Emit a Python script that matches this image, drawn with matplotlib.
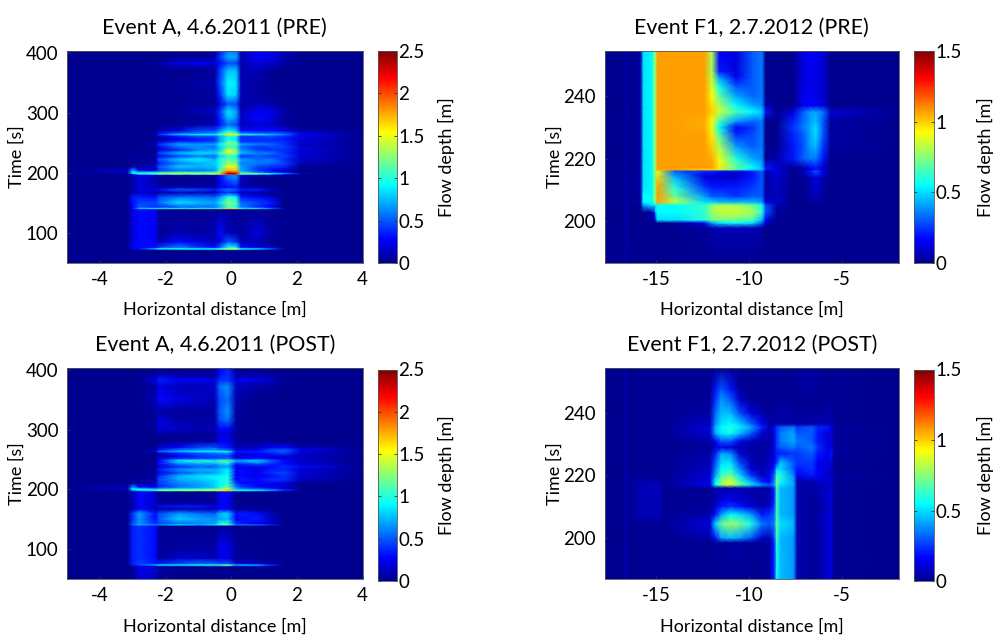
import numpy as np
import matplotlib
matplotlib.use("Agg")
from matplotlib import pylab as plt
from matplotlib.colors import LinearSegmentedColormap

plt.rcParams["font.family"] = ["Lato", "DejaVu Sans"]

# Event A: shared grid (distance in m, time in s, depth in m)
a_x = [-5, -3.15, -3, -2.8, -2.3, -2.2, -1.6, -1, -0.5, -0.35, -0.1, 0.15, 0.3, 0.8, 1.2, 1.6, 2.1, 4]
a_t = [50, 71, 72.5, 74, 76, 85, 100, 139, 141, 143, 150, 160, 167, 172, 176, 190, 196.5, 198, 199.5, 201,
       204, 210, 216, 222, 228, 233, 238, 243, 248, 252, 256, 261, 264, 266, 270, 280, 292, 302, 315, 330,
       350, 372, 383, 392, 403]

a_pre = [
    [0, 0, 0, 0, 0, 0, 0, 0, 0, 0, 0, 0, 0, 0, 0, 0, 0, 0],
    [0, 0, 0, 0, 0, 0, 0, 0, 0, 0, .02, .02, 0, 0, 0, 0, 0, 0],
    [0, 0, .2, .2, .5, .6, .7, .7, .7, .8, 1, 1, .7, .6, .4, 0, 0, 0],
    [0, 0, .25, .3, .8, 1, 1, .9, .9, 1.1, 1.6, 1.5, .9, .8, .5, .1, 0, 0],
    [0, 0, .25, .3, .3, .4, .6, .4, .3, .5, .9, .9, .3, .2, .1, 0, 0, 0],
    [0, 0, .2, .3, .25, .08, .3, .2, .1, .2, .5, .4, .1, .1, 0, 0, 0, 0],
    [0, 0, .2, .3, .25, .03, .08, .05, .1, .3, .1, .05, .03, .2, .05, 0, 0, 0],
    [0, 0, .2, .3, .25, .01, .01, .01, .02, .03, .05, .03, .01, 0, 0, 0, 0, 0],
    [0, 0, .3, .8, .9, .9, 1, 1, 1, 1.2, 1.6, 1.5, 1, .9, .6, .1, 0, 0],
    [0, 0, .3, .5, .4, .4, .5, .55, .55, .7, 1.1, 1, .6, .4, .25, 0, 0, 0],
    [0, 0, .3, .45, .45, .55, .85, .75, .7, .85, 1.25, 1.1, .55, .45, .35, 0, 0, 0],
    [0, 0, .35, .35, .3, .45, .55, .55, .5, .65, 1, .9, .35, .25, .15, 0, 0, 0],
    [0, 0, .05, .15, .05, .05, .1, .1, .1, .3, .4, .3, .1, .05, 0, 0, 0, 0],
    [0, 0, .05, .2, .2, .3, .5, .45, .35, .45, .6, .5, .35, .35, .15, 0, 0, 0],
    [0, 0, .05, .2, .1, .05, .05, .05, .05, .25, .3, .35, .1, .03, 0, 0, 0, 0],
    [0, 0, .05, .2, .1, 0, 0, 0, .03, .25, .5, .6, .1, 0, 0, 0, 0, 0],
    [0, 0, .05, .2, .1, .02, .02, .03, .05, .3, .6, .65, .15, .05, .03, 0, 0, 0],
    [0, .05, .3, .8, .85, 1, 1.1, 1.1, 1.2, 1.4, 2.2, 2.1, 1.1, .9, .7, .4, .02, 0],
    [0, .1, .95, 1.05, 1.3, 1.4, 1.5, 1.45, 1.45, 1.7, 2.45, 2.3, 1.35, 1.25, .95, .7, .1, 0],
    [0, .1, .9, .8, .85, .85, 1, .9, 1, 1.35, 2.1, 2, .9, .6, .4, .25, 0, 0],
    [0, .15, .7, .25, .25, .4, .55, .55, .65, 1.05, 1.75, 1.7, .7, .4, .3, .15, 0, 0],
    [0, 0, .1, .05, .1, .5, .8, .75, .75, 1, 1.5, 1.4, .7, .45, .4, .35, .02, 0],
    [0, 0, .02, .03, .05, .35, .6, .7, .8, .9, 1.3, 1.2, .6, .6, .55, .45, .1, 0],
    [0, 0, .02, .02, .05, .5, .8, .9, .75, 1, 1.2, 1.1, .7, .55, .6, .4, .15, 0],
    [0, 0, .02, .02, .03, .25, .45, .6, .5, .8, 1, .95, .4, .5, .4, .45, .2, 0],
    [0, 0, .02, .02, .03, .45, .75, .85, .8, 1.05, 1.4, 1.3, .75, .6, .6, .4, .15, 0],
    [0, 0, .02, .02, .02, .15, .4, .6, .7, .8, 1.5, 1.2, .65, .45, .4, .4, .2, 0],
    [0, 0, 0, 0, .02, .25, .55, .65, .55, .8, 1.05, 1, .55, .4, .45, .45, .2, 0],
    [0, 0, 0, 0, .1, .4, .7, .65, .7, .9, 1.2, 1.2, .7, .6, .55, .4, .1, 0],
    [0, 0, 0, 0, .02, .15, .4, .4, .45, .7, 1.15, 1.05, .4, .4, .4, .4, .2, 0],
    [0, 0, 0, 0, 0, .05, .2, .35, .4, .7, .95, .85, .4, .4, .4, .35, .2, 0],
    [0, 0, 0, 0, 0, .1, .3, .45, .45, .7, 1, .95, .4, .4, .45, .4, .2, 0],
    [0, 0, 0, 0, .05, .4, .8, .95, .95, 1.1, 1.6, 1.5, 1.05, .95, .75, .6, .25, 0],
    [0, 0, 0, 0, .03, .3, .55, .6, .65, .85, 1.3, 1.2, .65, .55, .55, .5, .25, 0],
    [0, 0, 0, 0, 0, .08, .2, .45, .45, .65, .9, .8, .3, .3, .3, .25, .05, 0],
    [0, 0, 0, 0, 0, 0, .02, .05, .1, .3, .55, .45, .1, .2, .15, .02, 0, 0],
    [0, 0, 0, 0, 0, 0, 0, .02, .05, .35, .75, .65, .15, .3, .2, .05, 0, 0],
    [0, 0, 0, 0, 0, .02, .03, .1, .15, .4, .85, .7, .1, .25, .25, .05, 0, 0],
    [0, 0, 0, 0, 0, 0, .02, .03, .03, .2, .5, .45, .05, .1, .05, 0, 0, 0],
    [0, 0, 0, 0, 0, 0, .02, .03, .03, .35, .85, .8, .1, .05, .03, 0, 0, 0],
    [0, 0, 0, 0, 0, .02, .02, .05, .08, .45, .9, .85, .1, .05, 0, 0, 0, 0],
    [0, 0, 0, 0, 0, 0, 0, 0, .02, .4, .75, .75, .08, .1, .03, 0, 0, 0],
    [0, 0, 0, 0, .02, .05, .2, .25, .2, .3, .45, .45, .08, .2, .15, .05, 0, 0],
    [0, 0, 0, 0, 0, 0, .02, .03, .05, .4, .7, .7, .1, .25, .2, .1, 0, 0],
    [0, 0, 0, 0, 0, 0, 0, 0, .02, .35, .6, .6, .1, .25, .25, .1, 0, 0],
]

a_post = [
    [0, 0, 0, .22, .15, .03, 0, 0, 0, 0, 0, 0, 0, 0, 0, 0, 0, 0],
    [0, 0, 0, .22, .15, .03, 0, 0, 0, 0, 0, 0, 0, 0, 0, 0, 0, 0],
    [0, 0, .2, .3, .4, .5, .5, .6, .6, .6, .8, .2, .5, .5, .3, 0, 0, 0],
    [0, 0, .35, .45, .8, .9, .9, 1, 1, 1.2, 1.3, .8, .8, .7, .4, 0, 0, 0],
    [0, 0, .35, .45, .35, .35, .45, .55, .5, .45, .5, .1, .2, .1, .05, 0, 0, 0],
    [0, 0, .35, .4, .3, .03, .15, .15, .1, .2, .2, .02, .02, .02, 0, 0, 0, 0],
    [0, 0, .35, .4, .3, .02, .05, .05, .05, .25, .25, .03, .02, .01, 0, 0, 0, 0],
    [0, 0, .35, .4, .3, .01, .01, .01, .01, .02, .03, 0, 0, 0, 0, 0, 0, 0],
    [0, 0, .55, .75, .6, .65, .85, .75, .85, 1.1, 1.2, .6, .6, .55, .4, 0, 0, 0],
    [0, 0, .45, .65, .4, .45, .55, .6, .65, .95, 1, .4, .35, .25, .15, 0, 0, 0],
    [0, 0, .4, .65, .3, .5, .8, .7, .65, .7, .75, .3, .3, .35, .15, 0, 0, 0],
    [0, 0, .4, .7, .3, .45, .65, .55, .5, .75, .8, .3, .35, .3, .1, 0, 0, 0],
    [0, 0, .08, .3, .1, .05, .08, .08, .08, .25, .25, .02, .02, 0, 0, 0, 0, 0],
    [0, 0, .08, .3, .15, .3, .35, .35, .25, .3, .3, .03, .05, .02, 0, 0, 0, 0],
    [0, 0, .08, .3, .15, .03, .05, .05, .05, .25, .25, 0, 0, 0, 0, 0, 0, 0],
    [0, 0, .08, .3, .15, 0, 0, 0, .02, .25, .25, 0, 0, 0, 0, 0, 0, 0],
    [0, 0, .08, .3, .15, .02, .03, .03, .05, .25, .3, .05, .03, .02, 0, 0, 0, 0],
    [0, .03, .5, .65, .75, 1, 1.1, 1.1, 1.25, 1.35, 1.6, .85, .85, .75, .55, .3, 0, 0],
    [0, .08, .8, .95, 1.15, 1.4, 1.45, 1.45, 1.5, 1.55, 1.75, 1.05, 1, .9, .75, .5, .02, 0],
    [0, .15, .95, .95, .75, .8, .9, .95, 1.1, 1.2, 1.4, .75, .65, .55, .4, .25, 0, 0],
    [0, .1, .65, .3, .25, .4, .55, .65, .8, .95, 1.2, .6, .45, .3, .25, .15, 0, 0],
    [0, 0, .05, .05, .1, .4, .6, .7, .8, .9, 1, .45, .3, .25, .25, .2, 0, 0],
    [0, 0, .02, .02, .05, .45, .7, .75, .85, .95, 1, .25, .35, .3, .4, .4, .12, 0],
    [0, 0, 0, .02, .03, .4, .75, .85, .9, .9, .95, .25, .3, .25, .3, .4, .15, 0],
    [0, 0, 0, .02, .02, .2, .45, .6, .65, .75, .9, .25, .3, .25, .4, .45, .2, 0],
    [0, 0, 0, 0, .02, .35, .65, .75, .75, .8, .9, .3, .3, .25, .35, .35, .15, 0],
    [0, 0, 0, 0, .02, .15, .4, .5, .5, .6, .65, .2, .25, .2, .3, .4, .3, 0],
    [0, 0, 0, 0, .02, .3, .6, .7, .7, .8, .85, .35, .4, .5, .4, .3, .15, 0],
    [0, 0, 0, 0, .02, .3, .9, 1.05, 1, 1.15, 1.2, .75, .75, .85, .55, .3, .15, 0],
    [0, 0, 0, 0, 0, .15, .4, .45, .45, .5, .55, .2, .25, .3, .2, .2, .15, 0],
    [0, 0, 0, 0, .02, .08, .25, .4, .45, .45, .45, .2, .2, .25, .25, .2, .1, 0],
    [0, 0, 0, 0, 0, .1, .4, .5, .55, .6, .65, .25, .25, .3, .35, .45, .2, 0],
    [0, 0, 0, .02, .2, .55, .75, .9, .9, 1, 1, .35, .35, .35, .45, .5, .2, 0],
    [0, 0, 0, 0, .05, .35, .6, .65, .7, .6, .55, .2, .25, .25, .45, .5, .25, 0],
    [0, 0, 0, 0, 0, .15, .3, .45, .5, .4, .35, .1, .1, .15, .25, .3, .08, 0],
    [0, 0, 0, 0, 0, 0, .02, .05, .05, .25, .25, .03, .03, .02, .02, 0, 0, 0],
    [0, 0, 0, 0, 0, .02, .02, .02, .02, .2, .2, .02, 0, 0, 0, 0, 0, 0],
    [0, 0, 0, 0, .05, .2, .15, .1, .1, .3, .3, .05, .03, .02, 0, 0, 0, 0],
    [0, 0, 0, 0, .03, .2, .05, .05, .05, .45, .55, .05, .02, 0, 0, 0, 0, 0],
    [0, 0, 0, 0, .02, .05, .03, .03, .03, .5, .65, .05, .02, 0, 0, 0, 0, 0],
    [0, 0, 0, 0, .1, .3, .2, .15, .1, .45, .55, .1, .05, 0, 0, 0, 0, 0],
    [0, 0, 0, 0, .05, .2, .1, .1, .15, .55, .65, .1, .1, .05, .03, 0, 0, 0],
    [0, 0, .01, .02, .2, .35, .25, .25, .2, .4, .4, .2, .25, .2, .15, .02, 0, 0],
    [0, 0, 0, 0, .03, .1, .05, .03, .03, .3, .4, .05, .05, .1, .02, 0, 0, 0],
    [0, 0, 0, 0, 0, 0, 0, 0, .03, .3, .35, .05, 0, 0, 0, 0, 0, 0],
]

# Event F1, before
f_pre_x = [-17.8, -16.75, -16.6, -16.45, -15.85, -15.7, -15.2, -15.12, -15.05, -14.95, -14, -12.4, -12,
           -11.6, -10.7, -9.8, -9.3, -9.1, -8.5, -7.6, -7.1, -6.7, -6.4, -6, -5.6, -1.9]
f_pre_t = [186.8, 198, 199.5, 200.5, 203, 205.2, 206.2, 208, 211, 214, 216, 216.6, 217.2, 220, 224, 228, 230,
           232, 235, 237, 240, 243, 246, 248, 254.4]
f_pre = [
    [0, 0, .04, 0, 0, 0, 0, 0, 0, 0, 0, 0, 0, 0, 0, 0, 0, 0, 0, 0, 0, 0, 0, 0, 0, 0],
    [0, 0, .05, 0, 0, 0, 0, 0, .03, 0, 0, .02, .05, .06, .06, .06, .04, 0, 0, 0, 0, 0, 0, 0, 0, 0],
    [0, 0, .05, 0, 0, 0, 0, 0, .03, 0, .02, .15, .4, .5, .55, .5, .3, .05, 0, 0, 0, 0, 0, 0, 0, 0],
    [0, 0, .05, 0, 0, 0, .03, .05, .1, .5, .5, .6, .7, .72, .72, .65, .45, .15, 0, 0, 0, 0, 0, 0, 0, 0],
    [0, 0, .06, 0, 0, 0, .05, .1, .45, .55, .55, .62, .78, .85, .85, .8, .62, .3, .03, 0, 0, 0, 0, 0, 0, 0],
    [0, 0, .06, 0, 0, .4, .5, .5, .5, .55, .55, .62, .75, .8, .8, .72, .58, .28, .05, 0, 0, 0, 0, 0, 0, 0],
    [0, 0, .06, 0, .05, .55, .55, .75, .75, 1.07, .85, .5, .5, .45, .45, .45, .4, .1, .08, 0, 0, .02, .05, .02, 0, 0],
    [0, 0, .05, 0, .03, .55, .55, .75, .75, 1.07, .7, .4, .3, .3, .25, .3, .3, .05, .08, 0, 0, .03, .08, .02, 0, 0],
    [0, 0, .05, 0, .03, .5, .55, .75, .72, 1.07, .6, .25, .2, .2, .2, .25, .3, .03, .08, 0, 0, .03, .1, .03, 0, 0],
    [0, 0, .06, 0, .03, .5, .55, .75, .72, 1, .45, .12, .1, .1, .1, .2, .3, .03, .1, 0, 0, .05, .12, .05, 0, 0],
    [0, 0, .05, 0, .03, .5, .55, .75, .72, .9, .3, .2, .2, .15, .1, .2, .3, .05, .12, 0, .05, .2, .3, .15, 0, 0],
    [0, 0, .05, 0, .03, .5, .55, .75, .75, 1.07, 1.07, 1, 1, .85, .65, .5, .45, .2, .12, 0, .05, .15, .2, .1, 0, 0],
    [0, 0, .06, 0, .03, .5, .55, .75, .75, 1.07, 1.07, 1.07, 1.07, .95, .7, .55, .45, .2, .1, 0, .05, .15, .2, .1, 0, 0],
    [0, 0, .05, 0, .03, .5, .55, .75, .75, 1.07, 1.07, 1.07, 1.05, .9, .6, .42, .38, 0, .05, .2, .3, .35, .35, .2, 0, 0],
    [0, 0, .05, 0, .03, .5, .55, .75, .75, 1.07, 1.07, 1.07, 1, .8, .4, .3, .35, 0, 0, .2, .28, .4, .45, .25, .03, 0],
    [0, 0, .05, 0, .03, .5, .55, .75, .75, 1.07, 1.07, 1.07, .95, .65, .22, .27, .35, 0, 0, .22, .3, .42, .5, .3, .03, 0],
    [0, 0, .05, 0, .03, .5, .55, .75, .75, 1.07, 1.07, 1.05, .9, .55, .15, .25, .35, 0, 0, .25, .35, .42, .5, .3, .03, 0],
    [0, 0, .05, 0, .03, .5, .55, .75, .75, 1.07, 1.07, 1.05, .93, .65, .4, .32, .35, 0, 0, .22, .32, .4, .45, .3, .03, 0],
    [0, 0, .06, 0, .03, .5, .55, .75, .75, 1.07, 1.07, 1.07, 1, .85, .65, .55, .48, .2, 0, .12, .3, .4, .42, .35, .1, 0],
    [0, 0, .05, 0, .03, .5, .55, .75, .75, 1.07, 1.07, 1.07, .97, .8, .55, .42, .38, .05, 0, 0, .15, .16, .16, .12, 0, 0],
    [0, 0, .05, 0, .03, .5, .55, .75, .75, 1.07, 1.07, 1.07, .92, .68, .42, .32, .35, 0, 0, 0, .13, .16, .14, .1, 0, 0],
    [0, 0, .05, 0, .03, .5, .55, .75, .75, 1.07, 1.07, 1.07, .88, .58, .3, .3, .35, 0, 0, 0, .12, .15, .12, .1, 0, 0],
    [0, 0, .05, 0, .03, .5, .55, .75, .75, 1.07, 1.07, 1.07, .83, .4, .15, .3, .35, 0, 0, 0, .12, .15, .12, .1, 0, 0],
    [0, 0, .05, 0, .03, .5, .55, .75, .75, 1.07, 1.07, 1.07, .8, .2, .12, .3, .35, 0, 0, 0, .12, .15, .15, .1, 0, 0],
    [0, 0, .04, 0, .03, .5, .55, .75, .75, 1.07, 1.07, 1.07, .8, .15, .12, .3, .35, 0, 0, 0, .12, .15, .15, .1, 0, 0],
]

# Event F1, after
f_post_x = [-17.8, -16.75, -16.65, -16.55, -15.8, -14.8, -14.6, -12.1, -11.8, -11.5, -11, -10.5, -9.9, -9.3, -8.9,
            -8.65, -8.5, -8.3, -7.6, -7.4, -6.6, -6.3, -5.75, -5.55, -5.4, -1.9]
f_post_t = [186.8, 198.5, 200, 204.5, 207.5, 210, 212, 216, 217, 218, 220, 222, 224, 227, 229, 231, 233.5,
            235.5, 236.5, 240, 244, 247.5, 254.4]
f_post = [
    [0, 0, .08, 0, .01, .01, .01, .01, .01, .01, .01, .01, .01, .01, .03, .2, .55, .45, .4, .05, .02, .02, .1, .12, .01, 0],
    [0, 0, .08, 0, .01, .01, .01, .01, .02, .02, .03, .03, .02, .01, .03, .2, .6, .45, .4, .05, .02, .02, .1, .12, .01, 0],
    [0, 0, .07, 0, .01, .01, .01, .05, .2, .4, .45, .4, .3, .1, .05, .25, .65, .45, .4, .05, .02, .02, .1, .12, .01, 0],
    [0, 0, .08, 0, .01, .01, .01, .12, .5, .68, .78, .72, .6, .35, .3, .35, .7, .5, .45, .05, .02, .03, .1, .12, .01, 0],
    [0, 0, .07, 0, .06, .06, .01, .05, .2, .4, .55, .5, .4, .2, .25, .3, .65, .45, .4, .05, .02, .03, .1, .12, .01, 0],
    [0, 0, .08, 0, .06, .06, .01, .02, .1, .2, .25, .2, .12, .05, .12, .25, .65, .45, .4, .05, .02, .02, .08, .1, .01, 0],
    [0, 0, .07, 0, .06, .06, .01, .01, .05, .12, .15, .1, .06, .04, .05, .2, .65, .45, .4, .05, .02, .03, .1, .12, .01, 0],
    [0, 0, .08, 0, .06, .06, .01, .02, .03, .05, .05, .05, .04, .03, .05, .2, .65, .45, .4, .05, .03, .05, .08, .1, .01, 0],
    [0, 0, .07, 0, .06, .06, .01, .15, .55, .75, .85, .7, .5, .38, .3, .4, .7, .5, .42, .05, .03, .05, .08, .1, .01, 0],
    [0, 0, .08, 0, .05, .04, .01, .12, .55, .75, .9, .65, .45, .22, .15, .35, .72, .55, .42, .05, .05, .07, .1, .1, .02, 0],
    [0, 0, .1, 0, .01, .01, .01, .1, .42, .65, .7, .5, .25, .08, .15, .3, .65, .6, .38, .15, .2, .15, .1, .08, .02, 0],
    [0, 0, .07, 0, .01, .01, .01, .08, .35, .55, .6, .38, .12, .05, .1, .2, .5, .5, .3, .2, .25, .15, .1, .08, .01, 0],
    [0, 0, .07, 0, .01, .01, .01, .06, .3, .5, .52, .28, .08, .03, .08, .15, .25, .48, .3, .25, .25, .15, .12, .1, .01, 0],
    [0, 0, .08, 0, .01, .01, .01, .04, .22, .42, .38, .1, .04, .03, .05, .1, .2, .2, .25, .25, .3, .2, .15, .2, .02, 0],
    [0, 0, .07, 0, .01, .01, .01, .02, .08, .14, .12, .05, .04, .03, .05, .1, .25, .3, .35, .3, .35, .25, .12, .15, .02, 0],
    [0, 0, .07, 0, .01, .02, .01, .04, .15, .3, .3, .15, .06, .03, .05, .1, .25, .35, .42, .35, .3, .2, .12, .12, .02, 0],
    [0, 0, .08, 0, .01, .02, .01, .1, .42, .52, .56, .45, .3, .1, .05, .1, .25, .35, .42, .3, .3, .2, .1, .12, .02, 0],
    [0, 0, .07, 0, .01, .02, .01, .12, .45, .55, .6, .52, .42, .22, .05, .15, .25, .3, .35, .25, .3, .22, .2, .15, .02, 0],
    [0, 0, .06, 0, .01, .01, .01, .08, .38, .5, .55, .48, .32, .15, .05, .02, .03, .03, .03, .03, .04, .05, .05, .06, .01, 0],
    [0, 0, .07, 0, .01, .01, .01, .04, .33, .45, .45, .28, .12, .03, .02, .02, .03, .05, .03, .02, .02, .02, .03, .05, .01, 0],
    [0, 0, .05, 0, .01, .01, .01, .02, .25, .4, .32, .1, .02, .01, .01, .01, .01, .02, .02, .01, .01, .01, .01, .03, .01, 0],
    [0, 0, .05, 0, .01, .01, .01, .01, .2, .3, .2, .02, .01, .01, .01, .01, .01, .01, .01, .02, .03, .02, .01, .01, .01, 0],
    [0, 0, .04, 0, .01, .01, .01, .01, .01, .01, .01, .01, .01, .01, .01, .01, .01, .01, .01, .02, .03, .02, .01, .01, .01, 0],
]

a_ticks = [0, 0.5, 1, 1.5, 2, 2.5]
a_ticklabels = ["0", "0.5", "1", "1.5", "2", "2.5"]
f_ticks = [0, 0.5, 1, 1.5]
f_ticklabels = ["0", "0.5", "1", "1.5"]

# matlab style jet
jet = LinearSegmentedColormap.from_list(
    "mjet",
    [(0, (0, 0, 0.5625)), (7 / 63, (0, 0, 1)), (23 / 63, (0, 1, 1)), (39 / 63, (1, 1, 0)),
     (55 / 63, (1, 0, 0)), (1, (0.5, 0, 0))],
    N=256,
)

W, H = 994, 635
fig = plt.figure(figsize=(W / 100, H / 100), dpi=100)


def px_axes(l, t, r, b):
    return fig.add_axes([l / W, 1 - b / H, (r - l) / W, (b - t) / H])


def panel(box, cbox, x, t, z, vmax, xlim, ylim, xticks, yticks, cticks, clabels, title):
    ax = px_axes(*box)
    m = ax.pcolormesh(x, t, np.array(z), shading="gouraud", cmap=jet, vmin=0, vmax=vmax)
    ax.set_xlim(xlim)
    ax.set_ylim(ylim)
    ax.set_xticks(xticks)
    ax.set_xticklabels([str(v) for v in xticks])
    ax.set_yticks(yticks)
    ax.tick_params(direction="in", length=2, width=0.6, labelsize=13.5, pad=6, color="#333333")
    ax.set_xlabel("Horizontal distance [m]", fontsize=13)
    ax.set_ylabel("Time [s]", fontsize=13)
    ax.xaxis.set_label_coords(0.5, -0.186)
    ax.yaxis.set_label_coords(-0.142, 0.5)
    ax.set_title(title, fontsize=15.4, pad=12)
    for s in ax.spines.values():
        s.set_linewidth(0.6)
        s.set_color("#555555")
    cax = px_axes(*cbox)
    cb = fig.colorbar(m, cax=cax)
    cb.set_ticks(cticks)
    cb.set_ticklabels(clabels)
    cax.tick_params(direction="in", length=2, width=0.6, labelsize=13.5, pad=1, left=True, right=True,
                    color="#333333")
    cb.set_label("Flow depth [m]", fontsize=13)
    cax.yaxis.set_label_coords(3.15, 0.5)
    cb.outline.set_linewidth(0.6)
    cb.outline.set_edgecolor("#555555")


panel((67, 51, 362.5, 262.7), (378, 51, 397, 263), a_x, a_t, a_pre, 2.5, (-5, 4), (50, 403),
      [-4, -2, 0, 2, 4], [100, 200, 300, 400], a_ticks, a_ticklabels, "Event A, 4.6.2011 (PRE)")
panel((604.5, 51, 899, 262.7), (914, 51, 934, 263), f_pre_x, f_pre_t, f_pre, 1.5, (-17.8, -1.9), (186.8, 254.4),
      [-15, -10, -5], [200, 220, 240], f_ticks, f_ticklabels, "Event F1, 2.7.2012 (PRE)")
panel((67, 368, 362.5, 579), (378, 369.5, 397, 581), a_x, a_t, a_post, 2.5, (-5, 4), (50, 403),
      [-4, -2, 0, 2, 4], [100, 200, 300, 400], a_ticks, a_ticklabels, "Event A, 4.6.2011 (POST)")
panel((604.5, 368, 899, 579), (914, 369.5, 934, 581), f_post_x, f_post_t, f_post, 1.5, (-17.8, -1.9), (186.8, 254.4),
      [-15, -10, -5], [200, 220, 240], f_ticks, f_ticklabels, "Event F1, 2.7.2012 (POST)")

plt.savefig("out.png", dpi=100)
